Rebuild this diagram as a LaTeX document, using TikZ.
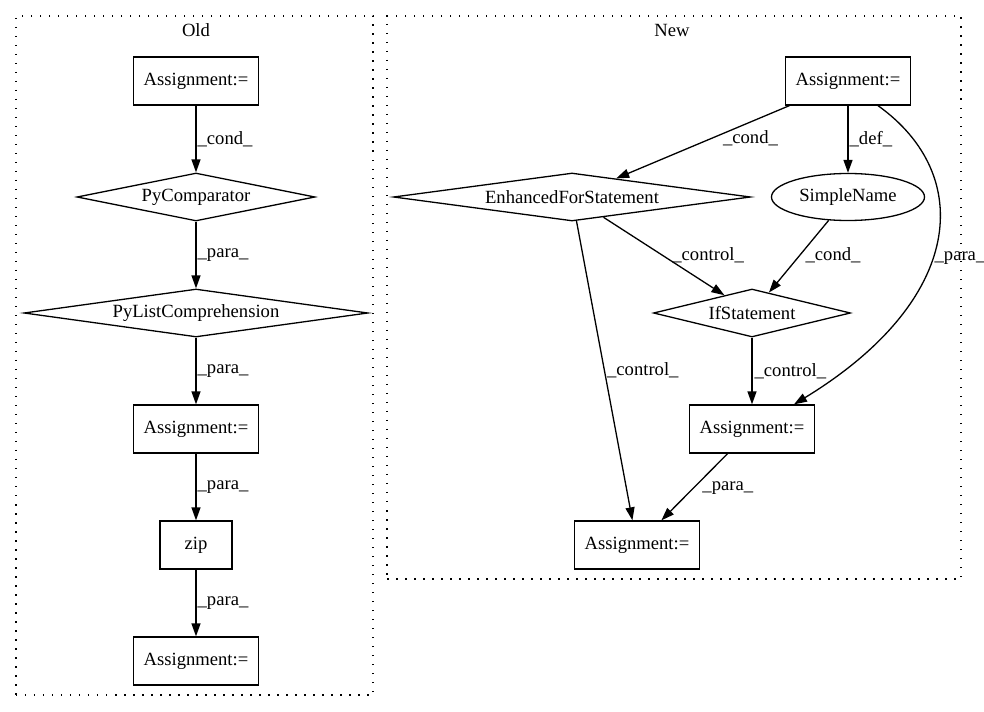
\documentclass[tikz,border=0pt]{standalone}
\usepackage{fontspec}
\setmainfont{Liberation Serif}
\usetikzlibrary{shapes.geometric,arrows.meta}

\begin{document}
\begin{tikzpicture}[x=1bp,y=-1bp,
    font=\fontsize{18.7}{22}\selectfont,
    box/.style={draw, rectangle, line width=1.3bp, inner sep=0pt, minimum width=125bp, minimum height=48bp},
    cmp/.style={draw, diamond, line width=1.3bp, inner sep=0pt, minimum height=48bp},
    ident/.style={draw, ellipse, line width=1.3bp, inner sep=0pt, minimum width=153bp, minimum height=47bp},
    cluster/.style={draw, dash pattern=on 1.5bp off 7.5bp, line width=1.3bp, inner sep=0pt},
    flow/.style={-{Triangle[length=13bp,width=9bp]}, line width=1.3bp},
    lbl/.style={anchor=west, inner sep=0pt}]
\useasboundingbox (0,0) rectangle (984,712);

% clusters
\node (old) [cluster, minimum width=357bp, minimum height=679bp] at (194.5,355.5) {};
\node (new) [cluster, minimum width=574bp, minimum height=563bp] at (674,297.5) {};
\node (oldlbl) at (196,30) {Old};
\node (newlbl) at (672,30) {New};

% old version
\node (oa1) [box] at (196,81) {Assignment:=};
\node (pycmp) [cmp, aspect=4.96, minimum width=238bp] at (196,197) {PyComparator};
\node (pylc) [cmp, aspect=7.17, minimum width=344bp] at (196,313) {PyListComprehension};
\node (oa2) [box] at (196,429) {Assignment:=};
\node (zip) [box, minimum width=72bp] at (196,545) {zip};
\node (oa3) [box] at (196,661) {Assignment:=};

\draw[flow] (oa1) -- node[lbl, xshift=1bp] {\_cond\_} (pycmp);
\draw[flow] (pycmp) -- node[lbl, xshift=1bp] {\_para\_} (pylc);
\draw[flow] (pylc) -- node[lbl, xshift=1bp] {\_para\_} (oa2);
\draw[flow] (oa2) -- node[lbl, xshift=1bp] {\_para\_} (zip);
\draw[flow] (zip) -- node[lbl, xshift=1bp] {\_para\_} (oa3);

% new version
\node (na1) [box] at (848,81) {Assignment:=};
\node (efs) [cmp, aspect=7.44, minimum width=357bp] at (572,197) {EnhancedForStatement};
\node (sn) [ident] at (848,197) {SimpleName};
\node (ifs) [cmp, aspect=4.1, minimum width=197bp] at (752,313) {IfStatement};
\node (na2) [box] at (752,429) {Assignment:=};
\node (na3) [box] at (637,545) {Assignment:=};

\draw[flow] (na1) -- node[lbl, pos=.45, xshift=11bp] {\_cond\_} (efs);
\draw[flow] (na1) -- node[lbl, xshift=1bp] {\_def\_} (sn);
\draw[flow] ([xshift=30bp]na1.south) .. controls (975,175) and (965,300) .. node[lbl, pos=.55, xshift=2bp] {\_para\_} ([xshift=42bp]na2.north);
\draw[flow] (efs) -- node[lbl, pos=.49, xshift=9bp] {\_control\_} (ifs);
\draw[flow] (sn) -- node[lbl, pos=.48, xshift=5bp] {\_cond\_} (ifs);
\draw[flow] (efs) -- node[lbl, pos=.5, xshift=2bp] {\_control\_} (na3);
\draw[flow] (ifs) -- node[lbl, xshift=2bp] {\_control\_} (na2);
\draw[flow] (na2) -- node[lbl, pos=.51, xshift=8bp] {\_para\_} (na3);
\end{tikzpicture}
\end{document}
